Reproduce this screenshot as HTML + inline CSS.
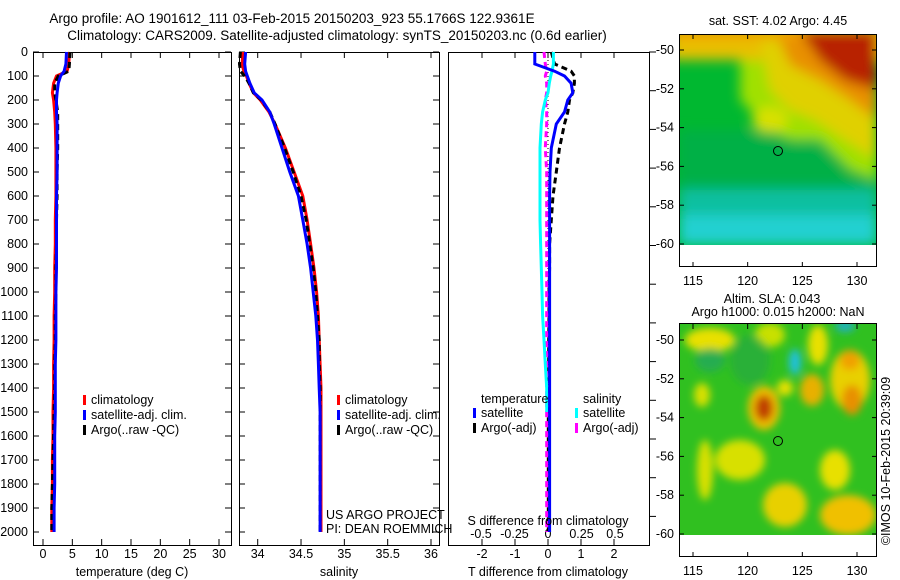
<!DOCTYPE html>
<html><head><meta charset="utf-8"><style>
html,body{margin:0;padding:0;background:#fff;width:900px;height:580px;overflow:hidden}
svg{display:block;font-family:"Liberation Sans",sans-serif}
text{font-size:12.5px;fill:#000}
.ttl{font-size:13.5px}
</style></head><body>
<svg id="c" width="900" height="580" viewBox="0 0 900 580">
<defs>
<filter id="bl" x="-20%" y="-20%" width="140%" height="140%"><feGaussianBlur stdDeviation="6"/></filter>
<filter id="bl2" x="-20%" y="-20%" width="140%" height="140%"><feGaussianBlur stdDeviation="4"/></filter>
<clipPath id="m1"><rect x="679" y="34" width="198" height="211"/></clipPath>
<clipPath id="m2"><rect x="679" y="323" width="198" height="212"/></clipPath>
</defs>
<text class="ttl" x="292" y="23" text-anchor="middle">Argo profile: AO 1901612_111 03-Feb-2015 20150203_923 55.1766S 122.9361E</text>
<text class="ttl" x="337" y="40" text-anchor="middle">Climatology: CARS2009. Satellite-adjusted climatology: synTS_20150203.nc (0.6d earlier)</text>

<g id="p1"></g>
<g id="p2"></g>
<g id="p3"></g>

<g>
<text x="778" y="25" text-anchor="middle">sat. SST: 4.02 Argo: 4.45</text>
<g clip-path="url(#m1)">
<rect x="679" y="34" width="198" height="211" fill="#00b830"/>
<g filter="url(#bl)">
<rect x="679" y="185" width="198" height="60" fill="#10c0a0"/>
<rect x="679" y="215" width="198" height="30" fill="#20d0d0"/>
<rect x="679" y="130" width="198" height="60" fill="#00ac50" opacity="0.7"/>
<rect x="670" y="25" width="220" height="35" fill="#e8c000"/>
<path d="M740 60 L877 60 L877 180 L850 170 L820 140 L790 140 L770 130 L760 120 L740 100 Z" fill="#a0e000"/>
<path d="M760 40 L877 40 L877 160 L845 140 L815 120 L790 110 L770 90 Z" fill="#e0d000"/>
<ellipse cx="770" cy="120" rx="18" ry="13" fill="#d8e000"/>
<path d="M775 30 L877 30 L877 120 L850 100 L820 80 L790 65 Z" fill="#e89000"/>
<path d="M800 30 L877 30 L877 90 L845 80 L820 60 Z" fill="#b82000"/>
<rect x="670" y="25" width="130" height="14" fill="#f0a000"/>
</g>
</g>
<rect x="679" y="245" width="198" height="22" fill="#fff"/>
<rect x="679.5" y="34.5" width="197" height="232" fill="none" stroke="#000"/>
<circle cx="778" cy="151" r="4.5" fill="none" stroke="#000"/>
<g id="m1ax"></g>
</g>

<g>
<text x="772" y="303" text-anchor="middle">Altim. SLA: 0.043</text>
<text x="778" y="316" text-anchor="middle">Argo h1000: 0.015 h2000: NaN</text>
<g clip-path="url(#m2)">
<rect x="679" y="323" width="198" height="212" fill="#30c020"/>
<g filter="url(#bl2)">
<ellipse cx="710" cy="340" rx="25" ry="12" fill="#e8e000"/>
<ellipse cx="770" cy="335" rx="15" ry="12" fill="#c8e000"/>
<ellipse cx="818" cy="345" rx="10" ry="20" fill="#e8e000"/>
<ellipse cx="850" cy="380" rx="20" ry="30" fill="#e8d000"/>
<ellipse cx="852" cy="400" rx="10" ry="15" fill="#e89000"/>
<ellipse cx="850" cy="360" rx="10" ry="10" fill="#f0a000"/>
<ellipse cx="764" cy="408" rx="16" ry="22" fill="#f0c000"/>
<ellipse cx="764" cy="408" rx="9" ry="13" fill="#c04000"/>
<ellipse cx="812" cy="390" rx="12" ry="16" fill="#e8b000"/>
<ellipse cx="785" cy="388" rx="8" ry="8" fill="#e8e000"/>
<ellipse cx="740" cy="460" rx="25" ry="20" fill="#d8e000"/>
<ellipse cx="705" cy="470" rx="8" ry="30" fill="#d8e000"/>
<ellipse cx="785" cy="505" rx="22" ry="22" fill="#e8d000"/>
<ellipse cx="835" cy="470" rx="15" ry="20" fill="#e8e000"/>
<ellipse cx="848" cy="515" rx="28" ry="20" fill="#f0c000"/>
<ellipse cx="702" cy="395" rx="8" ry="12" fill="#d8e000"/>
<ellipse cx="795" cy="362" rx="6" ry="13" fill="#20c0e0"/>
<ellipse cx="845" cy="326" rx="10" ry="6" fill="#20b0c0"/>
<ellipse cx="750" cy="360" rx="20" ry="25" fill="#20a050" opacity="0.5"/>
<ellipse cx="710" cy="360" rx="15" ry="12" fill="#20a070" opacity="0.6"/>
</g>
</g>
<rect x="679" y="535" width="198" height="22" fill="#fff"/>
<rect x="679.5" y="323.5" width="197" height="233" fill="none" stroke="#000"/>
<circle cx="778" cy="441" r="4.5" fill="none" stroke="#000"/>
<g id="m2ax"></g>
</g>
<text transform="translate(890,461) rotate(-90)" text-anchor="middle">©IMOS 10-Feb-2015 20:39:09</text>
</svg>
<script>
// ---- data ----
const depths = [0,50,80,100,130,170,200,250,300,400,500,600,700,800,900,1000,1100,1200,1300,1400,1500,1600,1700,1800,1900,2000];
const tempClim = [4.5,4.4,4.1,2.3,1.8,1.6,1.8,2.0,2.1,2.2,2.2,2.2,2.1,2.1,2.0,2.0,1.9,1.9,1.8,1.8,1.7,1.7,1.6,1.6,1.5,1.5];
const tempSat  = [4.0,3.9,3.6,3.0,2.6,2.4,2.3,2.3,2.4,2.4,2.4,2.3,2.3,2.3,2.3,2.2,2.2,2.2,2.1,2.1,2.1,2.0,2.0,2.0,1.9,1.9];
const tempArgo = [4.6,4.5,4.4,2.6,2.0,2.0,2.2,2.5,2.5,2.5,2.4,2.4,2.3,2.3,2.2,2.2,2.1,2.1,2.0,2.0,1.9,1.8,1.7,1.6,1.5,1.5];
const salClim = [33.83,33.82,33.84,33.87,33.9,33.95,34.03,34.13,34.2,34.32,34.42,34.52,34.57,34.61,34.65,34.68,34.7,34.71,34.72,34.73,34.73,34.73,34.73,34.73,34.73,34.73];
const salSat  = [33.86,33.85,33.86,33.88,33.91,33.96,34.05,34.14,34.19,34.28,34.37,34.47,34.52,34.57,34.61,34.64,34.67,34.69,34.7,34.71,34.72,34.72,34.72,34.72,34.72,34.72];
const salArgo = [33.80,33.79,33.80,33.85,33.9,33.95,34.04,34.14,34.2,34.31,34.41,34.5,34.56,34.6,34.64,34.67,34.69,34.71,34.71,34.72,34.72,34.72,34.72,34.72,34.72,34.72];
const dTsat  = [-0.4,-0.4,0.2,0.5,0.7,0.75,0.6,0.5,0.25,0.1,0.06,0.05,0.05,0.05,0.05,0.05,0.05,0.05,0.05,0.05,0.05,0.05,0.05,0.05,0.05,0.05];
const dTargo = [0.1,0.2,0.7,0.8,0.8,0.75,0.65,0.6,0.5,0.35,0.25,0.15,0.1,0.05,0.05,0.03,0.03,0.02,0.02,0.02,0.01,0.01,0.01,0.01,0.01,0.01];
const dSsat  = [0.04,0.04,0.03,0.02,0.01,0.0,-0.02,-0.04,-0.05,-0.06,-0.06,-0.06,-0.06,-0.055,-0.05,-0.045,-0.04,-0.03,-0.02,-0.01,-0.01];
const dSargo = [-0.03,-0.02,-0.01,-0.02,-0.01,-0.01,-0.02,-0.01,-0.01,-0.02,-0.01,-0.01,-0.01,-0.01,-0.01,-0.01,-0.01,-0.01,-0.01,-0.01,-0.01,-0.01,-0.01,-0.01,-0.01,-0.01];
const depthTicks = [0,100,200,300,400,500,600,700,800,900,1000,1100,1200,1300,1400,1500,1600,1700,1800,1900,2000];
const tTicks = [0,5,10,15,20,25,30];
const sTicks = [34,34.5,35,35.5,36];
const dtTicks = [-2,-1,0,1,2];
const dsTicks = [-0.5,-0.25,0,0.25,0.5];
const lonTicks = [115,120,125,130];
const latTicks = [-50,-52,-54,-56,-58,-60];

const NS='http://www.w3.org/2000/svg';
function mk(parent,tag,attrs){const e=document.createElementNS(NS,tag);for(const k in attrs)e.setAttribute(k,attrs[k]);parent.appendChild(e);return e;}
const yD = d => 52 + d*0.24;
const yTop=52, yBot=545;
function lin(v0,p0,v1,p1){return v=>p0+(v-v0)*(p1-p0)/(v1-v0);}

function frame(g,x0,x1,ticks,xs,topTicks,lbl){
  mk(g,'rect',{x:x0+0.5,y:yTop+0.5,width:x1-x0,height:yBot-yTop,fill:'none',stroke:'#000'});
  ticks.forEach(t=>{const x=xs(t);
    mk(g,'line',{x1:x,x2:x,y1:yBot,y2:yBot-6,stroke:'#000'});
    if(topTicks)mk(g,'line',{x1:x,x2:x,y1:yTop,y2:yTop+6,stroke:'#000'});
    const tx=mk(g,'text',{x:x,y:lbl,'text-anchor':'middle'});tx.textContent=String(t);
  });
}
function line(g,vals,xs,color,w,dash,name){
  let d='';vals.forEach((v,i)=>{d+=(i?'L':'M')+xs(v).toFixed(1)+' '+yD(depths[i]).toFixed(1);});
  const p=mk(g,'path',{d:d,fill:'none',stroke:color,'stroke-width':w});
  if(dash)p.setAttribute('stroke-dasharray',dash);
  
  
}
function legend(g,x,y,items){
  items.forEach((it,i)=>{
    mk(g,'rect',{x:x,y:y+i*15-9,width:3,height:10,fill:it[1]});
    const t=mk(g,'text',{x:x+8,y:y+i*15});t.textContent=it[0];
  });
}
// panel 1
const p1=document.getElementById('p1');
const xT=lin(0,43,30,219);
frame(p1,33,231,tTicks,xT,true,558);
depthTicks.forEach(d=>{const y=yD(d);mk(p1,'line',{x1:33,x2:39,y1:y,y2:y,stroke:'#000'});mk(p1,'line',{x1:231,x2:225,y1:y,y2:y,stroke:'#000'});
  const t=mk(p1,'text',{x:28,y:y+4,'text-anchor':'end'});t.textContent=d;});
line(p1,tempClim,xT,'#f00',3,null,'temp-climatology-line');
line(p1,tempArgo,xT,'#000',3,'6 4','temp-argo-line');
line(p1,tempSat,xT,'#00f',3,null,'temp-satellite-line');
legend(p1,83,404,[['climatology','#f00'],['satellite-adj. clim.','#00f'],['Argo(..raw -QC)','#000']]);
let t1=mk(p1,'text',{x:132,y:576,'text-anchor':'middle'});t1.textContent='temperature (deg C)';
// panel 2
const p2=document.getElementById('p2');
const xS=lin(34,257.7,36,431);
frame(p2,239,439,sTicks,xS,true,558);
depthTicks.forEach(d=>{const y=yD(d);mk(p2,'line',{x1:239,x2:245,y1:y,y2:y,stroke:'#000'});mk(p2,'line',{x1:439,x2:433,y1:y,y2:y,stroke:'#000'});});
line(p2,salClim,xS,'#f00',3,null,'sal-climatology-line');
line(p2,salArgo,xS,'#000',3,'6 4','sal-argo-line');
line(p2,salSat,xS,'#00f',3,null,'sal-satellite-line');
legend(p2,337,404,[['climatology','#f00'],['satellite-adj. clim.','#00f'],['Argo(..raw -QC)','#000']]);
let t2=mk(p2,'text',{x:326,y:519});t2.textContent='US ARGO PROJECT';
let t3=mk(p2,'text',{x:326,y:533});t3.textContent='PI: DEAN ROEMMICH';
let t4=mk(p2,'text',{x:339,y:576,'text-anchor':'middle'});t4.textContent='salinity';
// panel 3
const p3=document.getElementById('p3');
const xDT=lin(0,548,2,614);
const xDS=lin(0,548,0.5,615);
frame(p3,448,649,dtTicks,xDT,true,558);
dsTicks.forEach(s=>{const t=mk(p3,'text',{x:xDS(s),y:538,'text-anchor':'middle'});t.textContent=String(s);});
for(let y=52;y<=545;y+=38.7){mk(p3,'line',{x1:649,x2:656,y1:y,y2:y,stroke:'#000'});}
mk(p3,'line',{x1:548,x2:548,y1:yD(0),y2:yD(2000),stroke:'#000','stroke-dasharray':'1 3'});
line(p3,dTargo,xDT,'#000',3,'6 4','tdiff-argo-line');
line(p3,dSargo,xDS,'#f0f',3,'6 4','sdiff-argo-line');
line(p3,dSsat,xDS,'#0ff',3,null,'sdiff-satellite-line');
line(p3,dTsat,xDT,'#00f',3,null,'tdiff-satellite-line');
let l1=mk(p3,'text',{x:481,y:403});l1.textContent='temperature';
let l2=mk(p3,'text',{x:583,y:403});l2.textContent='salinity';
legend(p3,473,417,[['satellite','#00f'],['Argo(-adj)','#000']]);
legend(p3,575,417,[['satellite','#0ff'],['Argo(-adj)','#f0f']]);
let l3=mk(p3,'text',{x:548,y:525,'text-anchor':'middle'});l3.textContent='S difference from climatology';
let l4=mk(p3,'text',{x:548,y:576,'text-anchor':'middle'});l4.textContent='T difference from climatology';
// maps axes
function mapAx(id,y50,y60,bottom,labY){
  const g=document.getElementById(id);
  const xl=lin(115,693,130,857), yl=lin(-50,y50,-60,y60);
  lonTicks.forEach(v=>{const x=xl(v);mk(g,'line',{x1:x,x2:x,y1:bottom,y2:bottom-5,stroke:'#000'});mk(g,'line',{x1:x,x2:x,y1:bottom-233,y2:bottom-228,stroke:'#000'});
    const t=mk(g,'text',{x:x,y:labY,'text-anchor':'middle'});t.textContent=v;});
  latTicks.forEach(v=>{const y=yl(v);mk(g,'line',{x1:679,x2:684,y1:y,y2:y,stroke:'#000'});mk(g,'line',{x1:877,x2:872,y1:y,y2:y,stroke:'#000'});
    const t=mk(g,'text',{x:674,y:y+4,'text-anchor':'end'});t.textContent=v;});
}
mapAx('m1ax',50,244,267,285);
mapAx('m2ax',340,534,557,575);
</script>
</body></html>
